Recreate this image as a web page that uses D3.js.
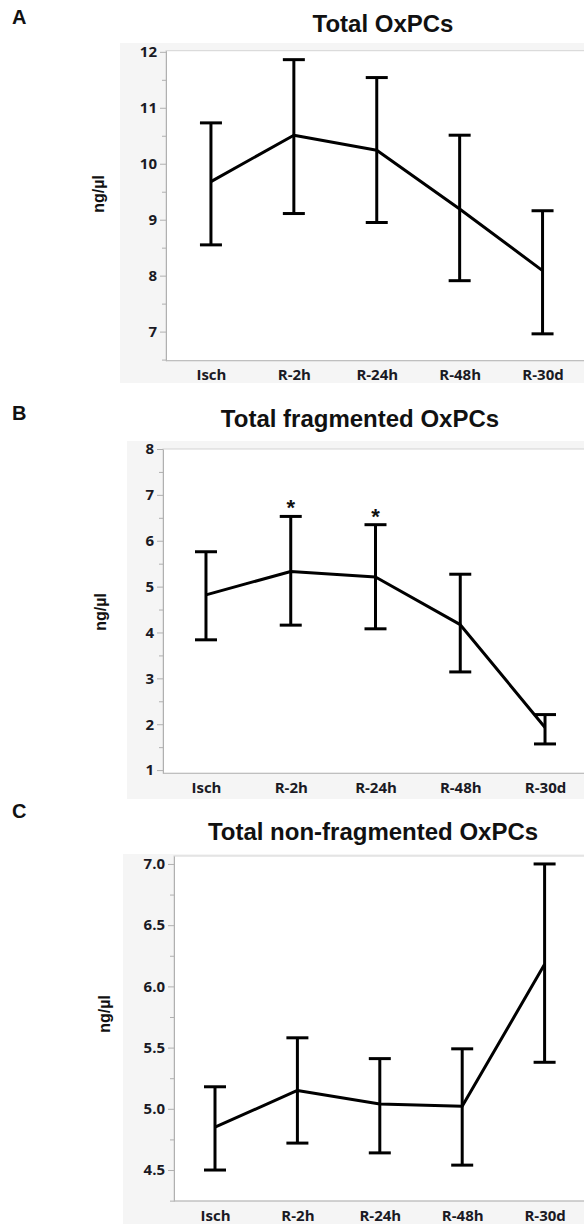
<!DOCTYPE html>
<html>
<head>
<meta charset="utf-8">
<script src="https://cdn.jsdelivr.net/npm/d3@7"></script>
<style>
  body { margin: 0; background: #fff; }
  .tick text { font-family: "Open Sans", sans-serif; font-weight: 700; }
</style>
</head>
<body>
<svg id="chart" width="584" height="1224"></svg>
<script>
const categories = ["Isch", "R-2h", "R-24h", "R-48h", "R-30d"];

// A: Total OxPCs
const totalMean = [9.68, 10.51, 10.24, 9.19, 8.09];
const totalLow  = [8.55, 9.11, 8.95, 7.91, 6.96];
const totalHigh = [10.73, 11.86, 11.54, 10.51, 9.16];
const totalTicks = [7, 8, 9, 10, 11, 12];

// B: Total fragmented OxPCs
const fragMean = [4.82, 5.33, 5.21, 4.17, 1.93];
const fragLow  = [3.84, 4.16, 4.08, 3.14, 1.57];
const fragHigh = [5.76, 6.53, 6.35, 5.27, 2.21];
const fragTicks = [1, 2, 3, 4, 5, 6, 7, 8];
const fragStars = ["R-2h", "R-24h"];

// C: Total non-fragmented OxPCs
const nonMean = [4.85, 5.15, 5.04, 5.02, 6.18];
const nonLow  = [4.50, 4.72, 4.64, 4.54, 5.38];
const nonHigh = [5.18, 5.58, 5.41, 5.49, 7.00];
const nonTicks = [4.5, 5.0, 5.5, 6.0, 6.5, 7.0];

const panels = [
  {label: "A", title: "Total OxPCs", mean: totalMean, lo: totalLow, hi: totalHigh,
   ticks: totalTicks, minorStep: 0.5, fmt: d3.format("d"), stars: [],
   yDomain: [6.48, 12.02], frame: [120, 43, 340], plot: [166, 50.7, 360.7],
   xRange: [169.5, 584], labelY: 24, titleX: 383, titleY: 32, yTitle: [104, 194]},
  {label: "B", title: "Total fragmented OxPCs", mean: fragMean, lo: fragLow, hi: fragHigh,
   ticks: fragTicks, minorStep: 0.5, fmt: d3.format("d"), stars: fragStars,
   yDomain: [0.93, 8.0], frame: [127, 441, 358], plot: [163, 449, 773.3],
   xRange: [163.6, 587.4], labelY: 420, titleX: 360, titleY: 427, yTitle: [106, 612]},
  {label: "C", title: "Total non-fragmented OxPCs", mean: nonMean, lo: nonLow, hi: nonHigh,
   ticks: nonTicks, minorStep: 0.25, fmt: d3.format(".1f"), stars: [],
   yDomain: [4.247, 7.065], frame: [123, 854, 400], plot: [174, 856, 1201],
   xRange: [173.8, 585.8], labelY: 818, titleX: 373, titleY: 840, yTitle: [110, 1014]}
];

const svg = d3.select("#chart");

panels.forEach(p => {
  const [fx, fy, fh] = p.frame;
  const [pl, pt, pb] = p.plot;
  const g = svg.append("g");

  // panel letter
  g.append("text").attr("x", 12).attr("y", p.labelY)
    .style("font-family", "Liberation Sans, Arial, sans-serif")
    .style("font-weight", 700).style("font-size", "20px").style("fill", "#111")
    .text(p.label);

  // title
  g.append("text").attr("x", p.titleX).attr("y", p.titleY)
    .attr("text-anchor", "middle")
    .style("font-family", "Liberation Sans, Arial, sans-serif")
    .style("font-weight", 700).style("font-size", "24px").style("fill", "#111")
    .text(p.title);

  // grey frame + white plot area
  g.append("rect").attr("x", fx).attr("y", fy).attr("width", 600 - fx).attr("height", fh)
    .attr("fill", "#f5f5f5");
  g.append("rect").attr("x", pl).attr("y", pt).attr("width", 600 - pl).attr("height", pb - pt)
    .attr("fill", "#fff").attr("stroke", "#d4d4d4").attr("stroke-width", 1);

  const y = d3.scaleLinear().domain(p.yDomain).range([pb, pt]);
  const x = d3.scalePoint().domain(categories).range(p.xRange).padding(0.5);

  // minor ticks
  const minor = d3.range(Math.ceil(p.yDomain[0] / p.minorStep) * p.minorStep, p.yDomain[1] + 1e-9, p.minorStep)
    .filter(v => !p.ticks.some(t => Math.abs(t - v) < 1e-9));
  g.append("g").attr("transform", `translate(${pl},0)`)
    .call(d3.axisLeft(y).tickValues(minor).tickSize(4).tickFormat(""))
    .call(a => a.select(".domain").remove())
    .call(a => a.selectAll("line").attr("stroke", "#b0b0b0"));

  // major ticks
  g.append("g").attr("transform", `translate(${pl},0)`)
    .call(d3.axisLeft(y).tickValues(p.ticks).tickSize(6).tickPadding(3).tickFormat(p.fmt).tickSizeOuter(0))
    .call(a => a.select(".domain").attr("stroke", "#b0b0b0"))
    .call(a => a.selectAll("line").attr("stroke", "#b0b0b0"))
    .call(a => a.selectAll("text").style("font-size", "15px").attr("fill", "#1a1a24"));

  // bottom axis line + category labels
  g.append("g").attr("transform", `translate(0,${pb})`)
    .call(d3.axisBottom(x).tickSize(0).tickPadding(9))
    .call(a => a.select(".domain").attr("stroke", "#b8b8b8").attr("d", `M${pl},0H600`))
    .call(a => a.selectAll("text").style("font-size", "15px").attr("fill", "#1a1a24"));

  // y title
  g.append("text")
    .attr("transform", `translate(${p.yTitle[0]},${p.yTitle[1]}) rotate(-90)`)
    .attr("text-anchor", "middle")
    .style("font-family", "Liberation Sans, Arial, sans-serif").style("font-weight", 700)
    .style("font-size", "16px").style("fill", "#111")
    .text("ng/\u00b5l");

  // error bars
  const bars = g.append("g").attr("stroke", "#000").attr("stroke-width", 3).attr("fill", "none");
  categories.forEach((c, i) => {
    const cx = x(c);
    bars.append("line").attr("x1", cx).attr("x2", cx).attr("y1", y(p.lo[i])).attr("y2", y(p.hi[i]));
    bars.append("line").attr("x1", cx - 11).attr("x2", cx + 11).attr("y1", y(p.hi[i])).attr("y2", y(p.hi[i]));
    bars.append("line").attr("x1", cx - 11).attr("x2", cx + 11).attr("y1", y(p.lo[i])).attr("y2", y(p.lo[i]));
  });

  // mean line
  const line = d3.line().x((d, i) => x(categories[i])).y(d => y(d));
  g.append("path").datum(p.mean).attr("d", line)
    .attr("fill", "none").attr("stroke", "#000").attr("stroke-width", 3)
    .attr("stroke-linejoin", "round");

  // significance stars
  p.stars.forEach(c => {
    const i = categories.indexOf(c);
    g.append("text").attr("x", x(c)).attr("y", y(p.hi[i]) - 1)
      .attr("text-anchor", "middle")
      .style("font-family", "Liberation Sans, Arial, sans-serif").style("font-weight", 700)
      .style("font-size", "22px").style("fill", "#111")
      .text("*");
  });
});
</script>
</body>
</html>
